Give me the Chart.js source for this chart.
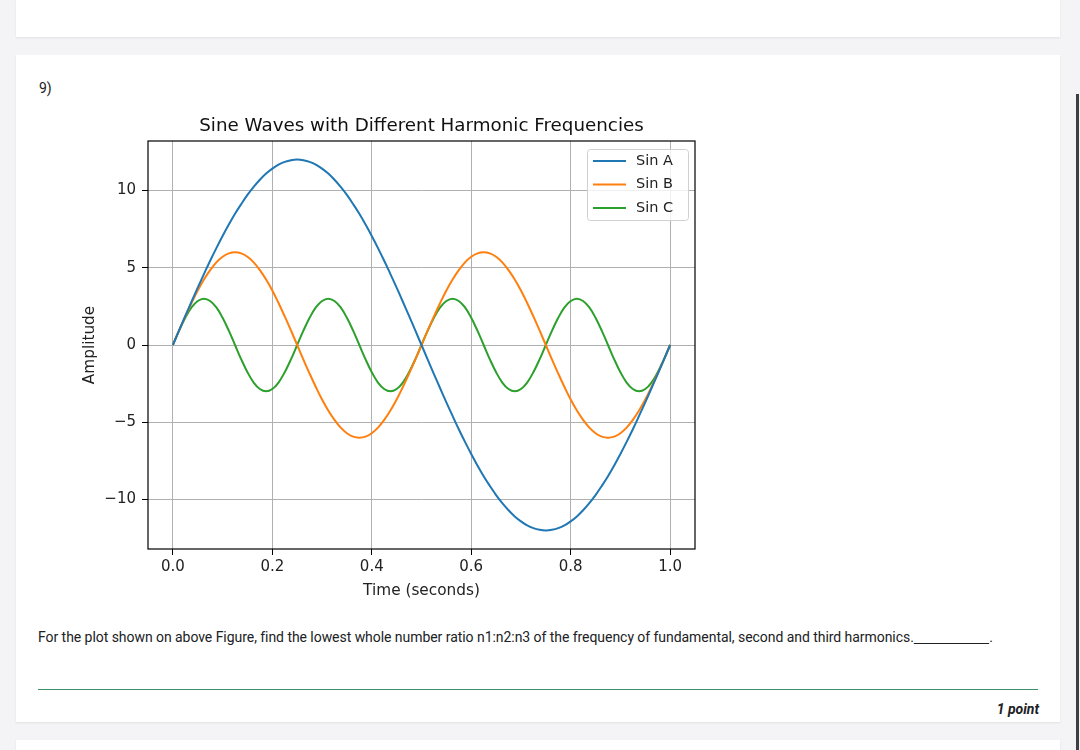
<!DOCTYPE html>
<html>
<head>
<meta charset="utf-8">
<script src="https://cdn.jsdelivr.net/npm/chart.js@4.4.1/dist/chart.umd.min.js"></script>
<style>
  html, body { margin: 0; padding: 0; }
  body { width: 1080px; height: 750px; background: #f4f4f6; position: relative; overflow: hidden; font-family: Roboto, "Noto Sans", sans-serif; color: #202124; }
  .card { position: absolute; left: 16px; width: 1044px; background: #fff; box-shadow: 0 1px 2px rgba(0,0,0,0.08); }
  #num { position: absolute; left: 39px; top: 80px; font-size: 14px; }
  #chartBox { position: absolute; left: 60px; top: 100px; width: 660px; height: 510px; }
  #question { position: absolute; left: 38px; top: 629px; font-size: 14px; white-space: nowrap; letter-spacing: -0.05px; }
  #rule { position: absolute; left: 38px; top: 689px; width: 1000px; height: 1px; background: #3e8e68; }
  #points { position: absolute; right: 41px; top: 701px; font-size: 14px; font-weight: bold; font-style: italic; }
  #scroll { position: absolute; left: 1076px; top: 94px; width: 3px; height: 660px; background: #3c4043; }
</style>
</head>
<body>
<div class="card" style="top:0;height:37px;"></div>
<div class="card" style="top:55px;height:667px;"></div>
<div class="card" style="top:740px;height:20px;"></div>
<div id="scroll"></div>
<div id="num">9)</div>
<div id="chartBox"><canvas id="waveChart" width="660" height="510"></canvas></div>
<div id="question">For the plot shown on above Figure, find the lowest whole number ratio n1:n2:n3 of the frequency of fundamental, second and third harmonics.<span style="text-decoration:underline;">&nbsp;&nbsp;&nbsp;&nbsp;&nbsp;&nbsp;&nbsp;&nbsp;&nbsp;&nbsp;&nbsp;&nbsp;&nbsp;&nbsp;&nbsp;&nbsp;&nbsp;&nbsp;&nbsp;&nbsp;&nbsp;&nbsp;</span>.</div>
<div id="rule"></div>
<div id="points">1 point</div>

<script>
// tidpunkter (sekunder)
const times = [0, 0.0125, 0.025, 0.0375, 0.05, 0.0625, 0.075, 0.0875, 0.1, 0.1125,
  0.125, 0.1375, 0.15, 0.1625, 0.175, 0.1875, 0.2, 0.2125, 0.225, 0.2375,
  0.25, 0.2625, 0.275, 0.2875, 0.3, 0.3125, 0.325, 0.3375, 0.35, 0.3625,
  0.375, 0.3875, 0.4, 0.4125, 0.425, 0.4375, 0.45, 0.4625, 0.475, 0.4875,
  0.5, 0.5125, 0.525, 0.5375, 0.55, 0.5625, 0.575, 0.5875, 0.6, 0.6125,
  0.625, 0.6375, 0.65, 0.6625, 0.675, 0.6875, 0.7, 0.7125, 0.725, 0.7375,
  0.75, 0.7625, 0.775, 0.7875, 0.8, 0.8125, 0.825, 0.8375, 0.85, 0.8625,
  0.875, 0.8875, 0.9, 0.9125, 0.925, 0.9375, 0.95, 0.9625, 0.975, 0.9875, 1];

const sinA = [0, 0.94, 1.88, 2.80, 3.71, 4.59, 5.45, 6.27, 7.05, 7.79,
  8.49, 9.12, 9.71, 10.23, 10.69, 11.09, 11.41, 11.67, 11.85, 11.96,
  12, 11.96, 11.85, 11.67, 11.41, 11.09, 10.69, 10.23, 9.71, 9.12,
  8.49, 7.79, 7.05, 6.27, 5.45, 4.59, 3.71, 2.80, 1.88, 0.94,
  0, -0.94, -1.88, -2.80, -3.71, -4.59, -5.45, -6.27, -7.05, -7.79,
  -8.49, -9.12, -9.71, -10.23, -10.69, -11.09, -11.41, -11.67, -11.85, -11.96,
  -12, -11.96, -11.85, -11.67, -11.41, -11.09, -10.69, -10.23, -9.71, -9.12,
  -8.49, -7.79, -7.05, -6.27, -5.45, -4.59, -3.71, -2.80, -1.88, -0.94, 0];

const sinB = [0, 0.94, 1.85, 2.72, 3.53, 4.24, 4.85, 5.35, 5.71, 5.93,
  6, 5.93, 5.71, 5.35, 4.85, 4.24, 3.53, 2.72, 1.85, 0.94,
  0, -0.94, -1.85, -2.72, -3.53, -4.24, -4.85, -5.35, -5.71, -5.93,
  -6, -5.93, -5.71, -5.35, -4.85, -4.24, -3.53, -2.72, -1.85, -0.94,
  0, 0.94, 1.85, 2.72, 3.53, 4.24, 4.85, 5.35, 5.71, 5.93,
  6, 5.93, 5.71, 5.35, 4.85, 4.24, 3.53, 2.72, 1.85, 0.94,
  0, -0.94, -1.85, -2.72, -3.53, -4.24, -4.85, -5.35, -5.71, -5.93,
  -6, -5.93, -5.71, -5.35, -4.85, -4.24, -3.53, -2.72, -1.85, -0.94, 0];

const sinC = [0, 0.93, 1.76, 2.43, 2.85, 3, 2.85, 2.43, 1.76, 0.93,
  0, -0.93, -1.76, -2.43, -2.85, -3, -2.85, -2.43, -1.76, -0.93,
  0, 0.93, 1.76, 2.43, 2.85, 3, 2.85, 2.43, 1.76, 0.93,
  0, -0.93, -1.76, -2.43, -2.85, -3, -2.85, -2.43, -1.76, -0.93,
  0, 0.93, 1.76, 2.43, 2.85, 3, 2.85, 2.43, 1.76, 0.93,
  0, -0.93, -1.76, -2.43, -2.85, -3, -2.85, -2.43, -1.76, -0.93,
  0, 0.93, 1.76, 2.43, 2.85, 3, 2.85, 2.43, 1.76, 0.93,
  0, -0.93, -1.76, -2.43, -2.85, -3, -2.85, -2.43, -1.76, -0.93, 0];

const seriesNames = ['Sin A', 'Sin B', 'Sin C'];
const seriesColors = ['#1f77b4', '#ff7f0e', '#2ca02c'];
const xTicks = [0, 0.2, 0.4, 0.6, 0.8, 1.0];
const yTicks = [-10, -5, 0, 5, 10];
const chartTitle = 'Sine Waves with Different Harmonic Frequencies';

const font = 'DejaVu Sans';

function toPoints(values) {
    return values.map(function(v, i) { return { x: times[i], y: v }; });
}

// ram runt plotytan, titel över plotytans mitt + legend inne i diagrammet
const framePlugin = {
    id: 'frame',
    afterDatasetsDraw: function(chart) {
        const c = chart.ctx;
        const a = chart.chartArea;
        c.save();
        c.strokeStyle = '#000';
        c.lineWidth = 1.2;
        c.strokeRect(a.left, a.top, a.right - a.left, a.bottom - a.top);

        // titel
        c.font = "18.3px 'DejaVu Sans'";
        c.fillStyle = '#111';
        c.textAlign = 'center';
        c.textBaseline = 'middle';
        c.fillText(chartTitle, (a.left + a.right) / 2, a.top - 15);

        // legend
        const boxW = 101, boxH = 71;
        const bx = a.right - 7 - boxW, by = a.top + 8;
        c.fillStyle = 'rgba(255,255,255,0.8)';
        c.strokeStyle = '#d0d0d0';
        c.lineWidth = 1;
        c.beginPath();
        c.roundRect(bx + 0.5, by + 0.5, boxW, boxH, 3);
        c.fill();
        c.stroke();
        c.font = "14.5px 'DejaVu Sans'";
        c.textAlign = 'left';
        for (let i = 0; i < seriesNames.length; i++) {
            const y = by + 12 + i * 23.5;
            c.strokeStyle = seriesColors[i];
            c.lineWidth = 2;
            c.beginPath();
            c.moveTo(bx + 6, y);
            c.lineTo(bx + 39, y);
            c.stroke();
            c.fillStyle = '#222';
            c.fillText(seriesNames[i], bx + 49, y);
        }
        c.restore();
    }
};

const ctx = document.getElementById('waveChart').getContext('2d');

const waveChart = new Chart(ctx, {
    type: 'line',
    data: {
        datasets: seriesNames.map(function(name, i) {
            return {
                label: name,
                data: toPoints([sinA, sinB, sinC][i]),
                borderColor: seriesColors[i],
                borderWidth: 2,
                pointRadius: 0,
                tension: 0.4,
                fill: false
            };
        })
    },
    options: {
        responsive: false,
        animation: false,
        layout: { padding: { left: 0, right: 25, top: 41, bottom: 0 } },
        plugins: {
            legend: { display: false },
            tooltip: { enabled: false },
            title: { display: false }
        },
        scales: {
            x: {
                type: 'linear',
                min: -0.05,
                max: 1.05,
                afterBuildTicks: function(scale) {
                    scale.ticks = xTicks.map(function(v) { return { value: v }; });
                },
                afterFit: function(scale) { scale.height = 61; },
                ticks: {
                    color: '#222',
                    padding: 3,
                    maxRotation: 0,
                    font: { family: font, size: 15 },
                    callback: function(v) { return v.toFixed(1); }
                },
                grid: { color: '#b0b0b0', lineWidth: 1, tickColor: '#000', tickLength: 6 },
                border: { display: false },
                title: {
                    display: true,
                    text: 'Time (seconds)',
                    color: '#222',
                    font: { family: font, size: 15.3 },
                    padding: { bottom: 10 }
                }
            },
            y: {
                min: -13.2,
                max: 13.2,
                afterBuildTicks: function(scale) {
                    scale.ticks = yTicks.map(function(v) { return { value: v }; });
                },
                afterFit: function(scale) { scale.width = 88; },
                ticks: {
                    color: '#222',
                    padding: 6,
                    font: { family: font, size: 15 },
                    callback: function(v) { return String(v).replace('-', '\u2212'); }
                },
                grid: { color: '#b0b0b0', lineWidth: 1, tickColor: '#000', tickLength: 6 },
                border: { display: false },
                title: {
                    display: true,
                    text: 'Amplitude',
                    color: '#222',
                    font: { family: font, size: 15.3 },
                    padding: { top: 21 }
                }
            }
        }
    },
    plugins: [framePlugin]
});
</script>
</body>
</html>
